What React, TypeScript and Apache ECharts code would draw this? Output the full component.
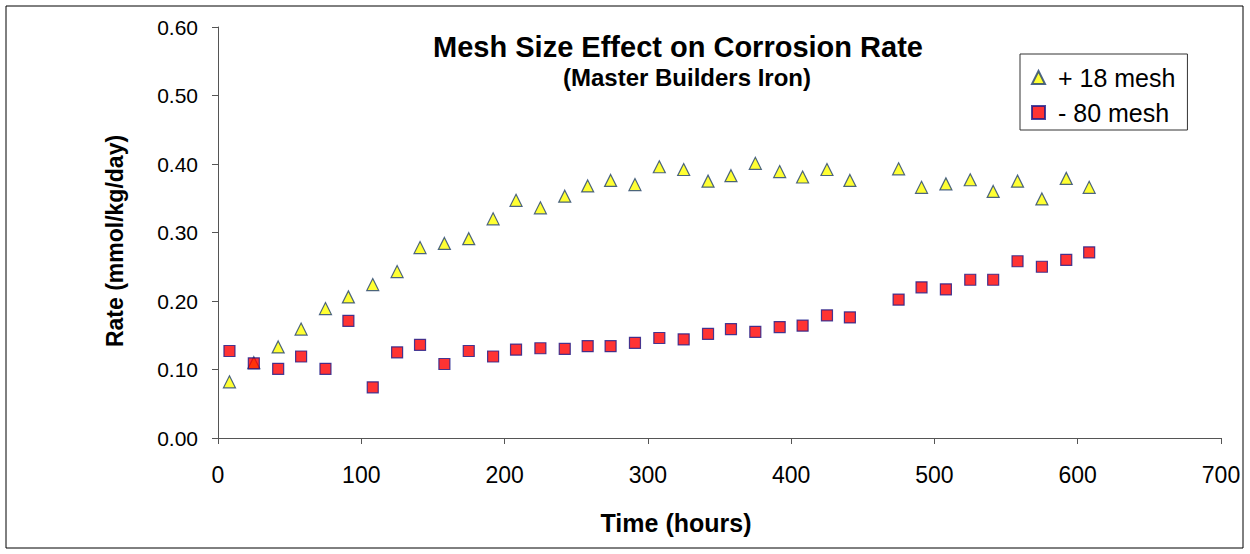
import React, { useEffect, useRef } from "react";
import * as echarts from "echarts";

const hours = [8, 25, 42, 58, 75, 91, 108, 125, 141, 158, 175, 192, 208, 225, 242, 258, 274, 291, 308, 325, 342, 358, 375, 392, 408, 425, 441, 475, 491, 508, 525, 541, 558, 575, 592, 608];
const plus18 = [0.082, 0.11, 0.133, 0.159, 0.189, 0.206, 0.224, 0.243, 0.278, 0.284, 0.291, 0.32, 0.347, 0.336, 0.353, 0.368, 0.376, 0.37, 0.396, 0.392, 0.375, 0.383, 0.401, 0.389, 0.381, 0.392, 0.376, 0.393, 0.366, 0.371, 0.377, 0.36, 0.375, 0.349, 0.379, 0.366];
const minus80 = [0.127, 0.109, 0.101, 0.119, 0.101, 0.171, 0.074, 0.125, 0.136, 0.108, 0.127, 0.119, 0.129, 0.131, 0.13, 0.134, 0.134, 0.139, 0.146, 0.144, 0.152, 0.159, 0.155, 0.162, 0.164, 0.179, 0.176, 0.202, 0.22, 0.217, 0.231, 0.231, 0.258, 0.25, 0.26, 0.271];
const seriesNames = ["+ 18 mesh", "- 80 mesh"];
const titleText = "Mesh Size Effect on Corrosion Rate";
const subtitleText = "(Master Builders Iron)";
const xAxisTitle = "Time (hours)";
const yAxisTitle = "Rate (mmol/kg/day)";

const FONT = "Arial, 'Liberation Sans', sans-serif";

export default function App() {
  const ref = useRef<HTMLDivElement>(null);
  useEffect(() => {
    const chart = echarts.init(ref.current!, null, { renderer: "svg" });
    chart.setOption({
      animation: false,
      backgroundColor: "#ffffff",
      grid: { left: 218, right: 29, top: 27, bottom: 116, containLabel: false },
      graphic: [
        { type: "rect", shape: { x: 6, y: 6, width: 1237, height: 542 }, style: { fill: "none", stroke: "#000", lineWidth: 1 }, silent: true },
        { type: "text", x: 678, y: 47, style: { text: titleText, fontFamily: FONT, fontSize: 29, fontWeight: "bold", fill: "#000", textAlign: "center", textVerticalAlign: "middle" } },
        { type: "text", x: 687, y: 77, style: { text: subtitleText, fontFamily: FONT, fontSize: 24, fontWeight: "bold", fill: "#000", textAlign: "center", textVerticalAlign: "middle" } },
        { type: "text", x: 676, y: 523, style: { text: xAxisTitle, fontFamily: FONT, fontSize: 25, fontWeight: "bold", fill: "#000", textAlign: "center", textVerticalAlign: "middle" } },
        { type: "text", x: 115, y: 241, rotation: Math.PI / 2, style: { text: yAxisTitle, fontFamily: FONT, fontSize: 23, fontWeight: "bold", fill: "#000", textAlign: "center", textVerticalAlign: "middle" } },
      ],
      legend: {
        orient: "vertical",
        left: 1020,
        top: 54,
        borderColor: "#333",
        borderWidth: 1,
        borderRadius: 0,
        padding: [11, 12, 5, 11],
        itemGap: 10,
        itemWidth: 13,
        itemHeight: 13,
        textStyle: { fontFamily: FONT, fontSize: 25, color: "#000", padding: [0, 0, 0, 8] },
        data: seriesNames,
      },
      xAxis: {
        type: "value",
        min: 0,
        max: 700,
        interval: 100,
        axisLine: { show: true, onZero: false, lineStyle: { color: "#555", width: 1 } },
        axisTick: { show: true, length: 6, lineStyle: { color: "#555" } },
        axisLabel: { fontFamily: FONT, fontSize: 23, color: "#000", margin: 25 },
        splitLine: { show: false },
      },
      yAxis: {
        type: "value",
        min: 0,
        max: 0.6,
        interval: 0.1,
        axisLine: { show: true, lineStyle: { color: "#555", width: 1 } },
        axisTick: { show: true, length: 6, lineStyle: { color: "#555" } },
        axisLabel: { fontFamily: FONT, fontSize: 21, color: "#000", margin: 20, formatter: (v: number) => v.toFixed(2) },
        splitLine: { show: false },
      },
      series: [
        {
          name: seriesNames[0],
          type: "scatter",
          symbol: "triangle",
          symbolSize: 12,
          itemStyle: { color: "#ffff00", borderColor: "#1f3f6f", borderWidth: 1.2 },
          data: hours.map((h, i) => [h, plus18[i]]),
        },
        {
          name: seriesNames[1],
          type: "scatter",
          symbol: "rect",
          symbolSize: 11,
          itemStyle: { color: "#ff0000", borderColor: "#1a1a8a", borderWidth: 1.2 },
          data: hours.map((h, i) => [h, minus80[i]]),
        },
      ],
    });
    return () => chart.dispose();
  }, []);
  return <div ref={ref} style={{ position: "fixed", left: 0, top: 0, width: 1250, height: 554 }} />;
}
